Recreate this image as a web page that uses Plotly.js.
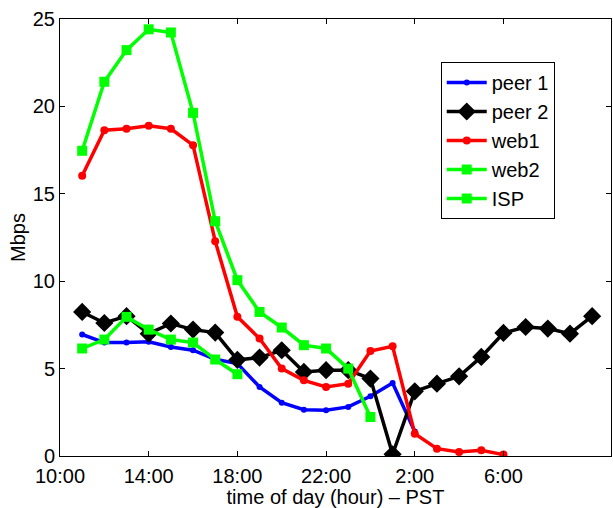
<!DOCTYPE html>
<html>
<head>
<meta charset="utf-8">
<script src="https://cdn.plot.ly/plotly-3.0.1.min.js"></script>
<style>html,body{margin:0;padding:0;background:#fff;}#chart{width:613px;height:508px;}</style>
</head>
<body>
<div id="chart"></div>
<script>
var hours = [11,12,13,14,15,16,17,18,19,20,21,22,23,24,25,26,27,28,29,30,31,32,33,34];
var tickVals = [10,14,18,22,26,30];
var tickText = ['10:00','14:00','18:00','22:00','2:00','6:00'];

var peer1 = [6.95,6.49,6.49,6.53,6.24,6.05,5.53,5.29,3.95,3.05,2.65,2.62,2.81,3.42,4.18,1.4];
var peer2 = [8.24,7.61,8.0,7.0,7.58,7.23,7.06,5.5,5.63,6.05,4.81,4.91,4.91,4.43,0.1,3.7,4.14,4.56,5.67,7.04,7.38,7.29,7.0,8.0];
var web1 = [16.03,18.64,18.72,18.89,18.72,17.78,12.29,7.96,6.72,5.0,4.33,3.95,4.14,6.01,6.28,1.28,0.42,0.23,0.33,0.08];
var web2 = [17.46,21.41,23.22,24.41,24.23,19.63,13.43,10.06,8.24,7.35,6.34,6.15,5.0,2.23];
var isp = [6.15,6.66,7.96,7.23,6.66,6.49,5.52,4.68];

function tr(name, y, color, symbol, size) {
  return {
    x: hours.slice(0, y.length), y: y, name: name, type: 'scatter', mode: 'lines+markers',
    line: {color: color, width: 3.5},
    marker: {color: color, symbol: symbol, size: size, line: {width: 0}}
  };
}

var data = [
  tr('peer 1', peer1, '#0000ff', 'circle', 6),
  tr('peer 2', peer2, '#000000', 'diamond', 14),
  tr('web1', web1, '#ff0000', 'circle', 8),
  tr('web2', web2, '#00ff00', 'square', 10),
  tr('ISP', isp, '#00ff00', 'square', 10)
];

var fam = 'Liberation Sans, Arial, sans-serif';
var font = {family: fam, size: 20, color: '#000'};
var legFont = {family: fam, size: 20, color: '#000'};

var layout = {
  width: 613, height: 508,
  margin: {l: 60, r: 2, t: 19, b: 52},
  paper_bgcolor: '#fff', plot_bgcolor: '#fff',
  font: font,
  showlegend: true,
  legend: {
    x: 0.691, y: 0.9016, xanchor: 'left', yanchor: 'top',
    bordercolor: '#000', borderwidth: 1, bgcolor: '#fff',
    font: legFont, tracegroupgap: 0, itemwidth: 40,
    entrywidth: 150, entrywidthmode: 'pixels'
  },
  xaxis: {
    range: [10, 34.85], tickvals: tickVals, ticktext: tickText,
    ticks: 'inside', ticklen: 5, tickcolor: '#000',
    showline: true, linecolor: '#000', linewidth: 1, mirror: 'ticks',
    showgrid: false, zeroline: false, automargin: false,
    tickfont: font, ticklabelstandoff: 2,
    title: {text: 'time of day (hour) \u2013 PST', font: font, standoff: 1}
  },
  yaxis: {
    range: [0, 25], dtick: 5, tick0: 0,
    ticks: 'inside', ticklen: 5, tickcolor: '#000',
    showline: true, linecolor: '#000', linewidth: 1, mirror: 'ticks',
    showgrid: false, zeroline: false, automargin: false,
    tickfont: font,
    title: {text: 'Mbps', font: font, standoff: 1}
  }
};

Plotly.newPlot('chart', data, layout, {displayModeBar: false, staticPlot: true});
</script>
</body>
</html>
